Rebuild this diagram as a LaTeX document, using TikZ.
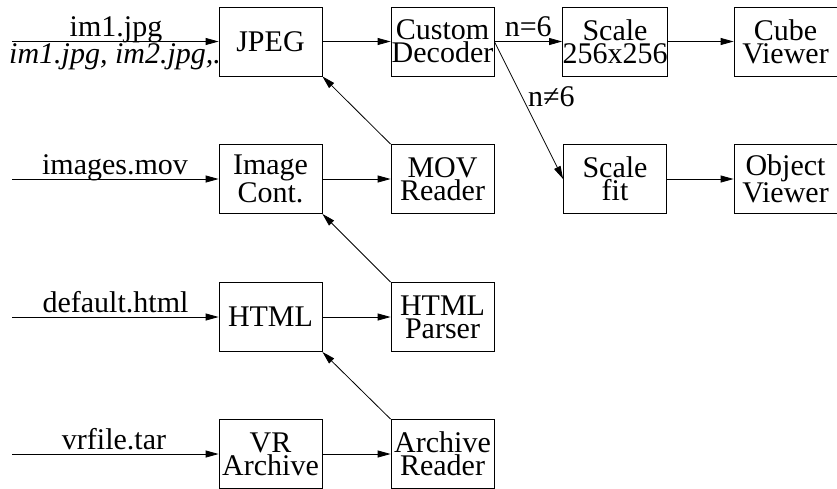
\documentclass[tikz,border=0pt]{standalone}
\usepackage{fontspec}
\setmainfont{Liberation Serif}
\usetikzlibrary{arrows.meta}
\begin{document}
\begin{tikzpicture}[x=1pt,y=-1pt,
  box/.style={draw, fill=white, line width=0.8pt, minimum width=103pt, minimum height=69pt,
    inner sep=0pt, align=center, font=\fontsize{30}{23}\selectfont},
  arr/.style={-{Triangle[length=13pt,width=7pt]}, line width=0.8pt},
  lbl/.style={anchor=base, inner sep=0pt, font=\fontsize{30}{23}\selectfont}]
\useasboundingbox (0,0) rectangle (837,488);
% italic list under first input (partly covered by the JPEG box)
\node[anchor=base west, inner sep=0pt, font=\fontsize{30}{23}\selectfont\itshape] (list) at (9,63) {im1.jpg, im2.jpg,...};
% boxes
\node[box] (jpeg) at (270.5,41.5) {JPEG};
\node[box] (dec) at (442.5,41.5) {Custom\\Decoder};
\node[box] (s256) at (615,41.5) {Scale\\256x256};
\node[box] (cube) at (785.5,41.5) {Cube\\Viewer};
\node[box] (img) at (270.5,179) {Image\\Cont.};
\node[box] (mov) at (442.5,179) {MOV\\Reader};
\node[box] (sfit) at (615,179) {Scale\\fit};
\node[box] (obj) at (785.5,179) {Object\\Viewer};
\node[box] (html) at (270.5,317) {HTML};
\node[box] (hpar) at (442.5,317) {HTML\\Parser};
\node[box] (vr) at (270.5,454) {VR\\Archive};
\node[box] (arch) at (442.5,454) {Archive\\Reader};
% input start points
\coordinate (in1) at (12,41.5);
\coordinate (in2) at (12,179);
\coordinate (in3) at (12,317);
\coordinate (in4) at (12,454);
% input labels
\node[lbl] (l1) at (116,36.5) {im1.jpg};
\node[lbl] (l2) at (115,174) {images.mov};
\node[lbl] (l3) at (115.5,312) {default.html};
\node[lbl] (l4) at (114,449.5) {vrfile.tar};
% connectors
\draw[arr] (in1) -- (jpeg.west);
\draw[arr] (in2) -- (img.west);
\draw[arr] (in3) -- (html.west);
\draw[arr] (in4) -- (vr.west);
\draw[arr] (jpeg) -- (dec);
\draw[arr] (dec) -- node[lbl, anchor=base, yshift=5pt] (neq) {n=6} (s256);
\draw[arr] (s256) -- (cube);
\draw[arr] (sfit) -- (obj);
\draw[arr] (img) -- (mov);
\draw[arr] (html) -- (hpar);
\draw[arr] (vr) -- (arch);
\draw[arr] (mov.north west) -- (jpeg.south east);
\draw[arr] (hpar.north west) -- (img.south east);
\draw[arr] (arch.north west) -- (html.south east);
\draw[arr] (dec.east) -- (sfit.west);
\node[lbl, anchor=base west] (nne) at (528,106) {n≠6};
\end{tikzpicture}
\end{document}
